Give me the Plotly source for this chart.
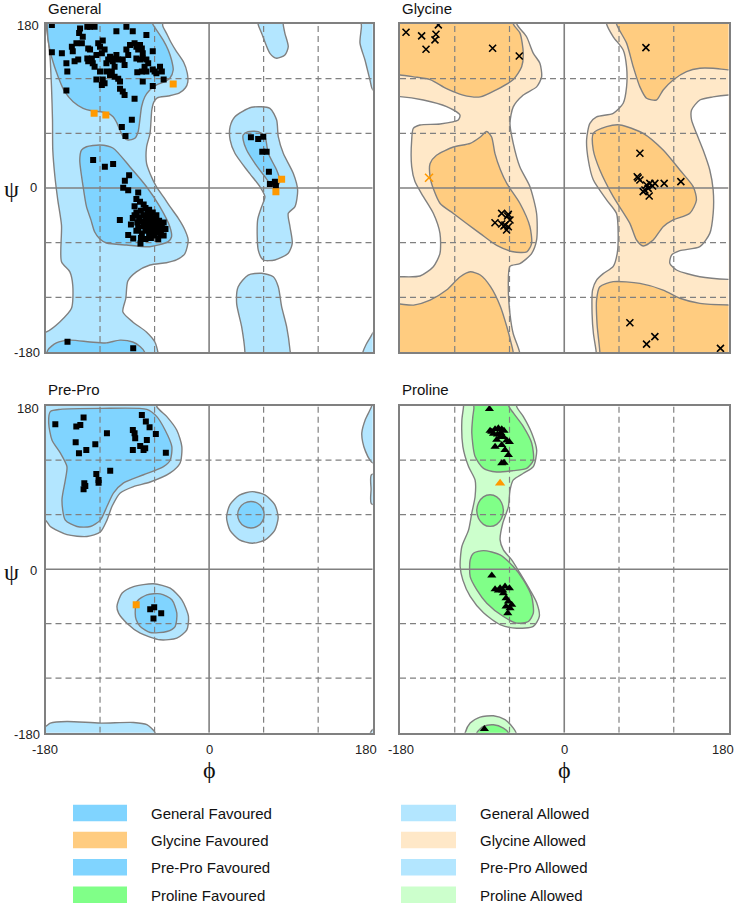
import plotly.graph_objects as go

W, H = 734, 905

# ---------------- colours ----------------
GEN_FAV, GEN_ALW = "#80D4FF", "#B3E6FF"
GLY_FAV, GLY_ALW = "#FFCC80", "#FFE8C8"
PRO_FAV, PRO_ALW = "#80FF88", "#CCFFCC"
OUTLINE = "#808080"
ORANGE = "#FF9900"

# ---------------- axis / ticks ----------------
AXIS_RANGE = [-180, 180]
GRID_DASHED = [-120, -60, 60, 120]
GRID_SOLID = [0]
TICK_LABELS = ["-180", "0", "180"]

# ---------------- General regions (phi, psi) ----------------
GEN_ALLOWED_MAIN = [(-179, 195), (-52, 195), (-51, 178), (-47, 170), (-42, 160), (-36, 150), (-28, 138),
                    (-24, 126), (-23.5, 116), (-26, 110), (-33, 104), (-45, 101), (-57, 99), (-61, 94),
                    (-63, 86), (-65, 60), (-68.8, 45), (-68.8, 27), (-65, 16), (-58, 1.5), (-50, -10),
                    (-43, -20.5), (-34, -33), (-26.6, -46), (-23, -57), (-26.6, -72), (-36, -79), (-47, -82),
                    (-65, -84.5), (-80, -92), (-89.4, -102), (-91.6, -121), (-94.9, -136), (-84, -147),
                    (-69, -158), (-59.7, -169), (-56.4, -180), (-55, -195), (-195, -195), (-195, -163),
                    (-178.9, -158), (-164.3, -147), (-151.4, -132), (-150, -107), (-153.2, -92), (-162.4, -81),
                    (-162.4, -41), (-166.5, -13), (-169.8, 14), (-172, 42), (-172.3, 75), (-173.4, 111),
                    (-175.3, 148), (-178.9, 177)]
GEN_FAV_BETA = [(-179, 195), (-63, 195), (-62, 180), (-57.8, 173.4), (-50.5, 162.4), (-45, 151.5), (-41.3, 140.5),
                (-39.5, 129.5), (-43.2, 120.4), (-48.7, 116.7), (-57.8, 113.1), (-65.2, 107.6), (-70.7, 100.2),
                (-74.3, 89.2), (-76.2, 74.6), (-78.1, 61.8), (-81.7, 54.6), (-89.1, 52.7), (-94.6, 56.3),
                (-98.2, 63.7), (-101.2, 71), (-105.6, 78.3), (-112.8, 82.6), (-129.4, 84.8), (-138.6, 87.5),
                (-149.6, 94.7), (-158.8, 105.7), (-166.1, 122.2), (-173.4, 144.1), (-177.1, 162.4), (-178.2, 179)]
GEN_FAV_BOTTOM = [(-178, -195), (-177.5, -178), (-168, -170), (-153, -167), (-131, -169), (-113, -170),
                  (-98, -167), (-84, -169), (-76, -174), (-71, -180), (-70, -195)]
GEN_FAV_ALPHA = [(-140.4, 41.7), (-134.9, 45.3), (-120.2, 47.2), (-105.9, 43.9), (-87.2, 23.4), (-68.8, 1.4),
                 (-54.2, -20.5), (-43.2, -42.5), (-41.3, -53.5), (-45, -58.9), (-65.2, -64.4), (-90.8, -62.6),
                 (-112.8, -60.4), (-120.2, -56), (-126, -48), (-130, -35), (-134.9, -20.5), (-138.6, 1.4),
                 (-142.3, 30.7)]
GEN_ALLOWED_ALPHAL = [(23.1, 67.3), (28.4, 78.3), (46.8, 88.6), (66.9, 87.5), (74.3, 74.6), (76.1, 56.3),
                      (81.6, 38.1), (92.6, 16.1), (97.4, -2.2), (94.5, -20.5), (87.1, -27.8), (89, -42.5),
                      (91.5, -60.7), (87.1, -71.7), (72.4, -79), (59.6, -79), (54.1, -68.1), (53.4, -35.1),
                      (57.8, -20.5), (61.4, -9.5), (55.9, 1.4), (43, 17.9), (28.4, 38.1), (23.1, 52.7)]
GEN_FAV_ALPHAL = [(37.5, 58.2), (43, 61.8), (54.1, 61.8), (61.4, 56.3), (65.1, 38.1), (74.3, 19.8), (77.9, 8.8),
                  (76.1, 3.3), (68.8, 3.3), (61.4, 12.4), (50.4, 27.1), (41.3, 41.7), (37.5, 52.7)]
GEN_ALLOWED_TOP = [(53, 195), (54.1, 179), (57.8, 169.8), (66.9, 147.8), (74.3, 142.4), (83.4, 146),
                   (87.1, 155.1), (83.4, 169.8), (81.6, 179), (81, 195)]
GEN_ALLOWED_BOT = [(39, -195), (39.4, -180), (35.8, -152.2), (30.3, -126.6), (32, -108.3), (43, -95.5),
                   (57.8, -93.6), (70.6, -97.4), (76.1, -108.3), (79.8, -130.3), (85.3, -152.2), (89, -177.8),
                   (90, -195)]
GEN_ALLOWED_EDGE_TOP = [(167.5, 195), (167.6, 177), (166, 159), (171.5, 140.5), (177, 118.5), (180, 108),
                        (195, 100), (195, 195)]
GEN_ALLOWED_EDGE_BOT = [(168, -195), (169.3, -180), (172.6, -172), (177, -164.6), (181, -158), (195, -150),
                        (195, -195)]

# ---------------- General residues ----------------
GEN_POINTS = [
    (-173, 179), (-173, 149), (-162, 148), (-157, 137), (-156, 128), (-150, 150), (-151, 155), (-148, 139),
    (-144, 141), (-143, 170), (-142, 175), (-146, 159), (-140, 159), (-139, 166), (-134, 177), (-131, 177),
    (-126, 177), (-133, 153), (-134, 142), (-133, 139), (-131, 152), (-129, 142), (-128, 137), (-126, 133),
    (-124, 146), (-122, 159), (-120, 155), (-118, 148), (-117, 162), (-115, 152), (-113, 137), (-111, 141),
    (-109, 144), (-106, 139), (-104, 142), (-102, 146), (-100, 141), (-104, 133), (-107, 128), (-113, 128),
    (-109, 124), (-104, 122), (-100, 120), (-102, 172), (-91, 177), (-84, 172), (-69, 168), (-82, 159),
    (-80, 155), (-78, 152), (-76, 157), (-74, 153), (-73, 148), (-80, 142), (-76, 141), (-73, 142),
    (-69, 141), (-67, 137), (-71, 133), (-69, 128), (-74, 128), (-79, 127), (-62, 150), (-62, 130),
    (-60, 128), (-58, 126), (-54, 133), (-52, 128), (-50, 119), (-62, 112), (-73, 117), (-157, 107),
    (-117, 119), (-115, 115), (-98, 109), (-95, 106), (-93, 102), (-82, 98), (-85, 75), (-96, 67),
    (-92, 57), (-91, 152), (-89, 146), (-87, 157), (-95, 141), (-93, 135), (-120, 128), (-124, 119),
    (-118, 113), (-98, 117),
    (-127.6, 30.7), (-114.7, 23.4), (-105.6, 26.4), (-88, 14), (-92.7, 8), (-94.5, 0.4), (-89, -2.6),
    (-98.2, -35.1), (-89, -51.6), (-83.5, -55.3), (-75.5, -60.8),
    (-78, -5), (-80, -12), (-76, -15), (-72, -18), (-82, -20), (-70, -22), (-66, -24), (-75, -25), (-80, -27),
    (-62, -27), (-68, -28), (-72, -30), (-58, -30), (-64, -31), (-77, -32), (-84, -33), (-60, -34), (-66, -35),
    (-70, -35), (-55, -36), (-74, -37), (-62, -38), (-58, -39), (-68, -40), (-64, -41), (-52, -41), (-72, -42),
    (-60, -42), (-56, -44), (-66, -44), (-78, -44), (-62, -46), (-70, -47), (-54, -47), (-58, -49), (-66, -50),
    (-74, -50), (-60, -52), (-50, -52), (-64, -55), (-70, -56), (-56, -56), (-80, -47), (-86, -40), (-67, -33),
    (-63, -36), (-59, -45), (-61, -40), (-65, -38), (-69, -43), (-57, -37), (-71, -39), (-63, -48), (-67, -46),
    (-53, -50), (-48, -45), (-50, -38), (-75, -55), (-79, -38), (-82, -30),
    (46, 55.6), (54, 53.7), (59.6, 56.3), (58.5, 39.8), (63.3, 39.8), (65.8, 17.9), (66.9, 4.4), (72.4, 6.9),
    (73.5, 2.5), (-155.8, -168.7), (-83.5, -176)]
GEN_OUTLIERS = [(-126.5, 82), (-113.6, 80.1), (-39.5, 114.2), (79.8, 9.5), (73.5, -4.1)]

# ---------------- Glycine regions ----------------
GLY_ALLOWED_BASE = [(-200, -200), (200, -200), (200, 200), (-200, 200)]
GLY_WHITE_CENTER = [(-52, 195), (-52, 180), (-41.3, 166), (-34, 148), (-26.7, 137), (-24.8, 122), (-30.3, 111),
                    (-44.9, 102), (-55.9, 89), (-59.5, 71), (-55.9, 49), (-48.6, 23), (-37.6, 1.5), (-30.3, -28),
                    (-30.3, -57), (-35.8, -72), (-48.6, -83), (-59.5, -86), (-61.3, -108), (-59.5, -138),
                    (-55.9, -160), (-49, -180), (-49, -195), (35, -195), (35, -180), (32, -160), (30.5, -138),
                    (31, -112), (35.4, -101), (42.7, -94), (53.7, -86), (58, -72), (59.1, -50), (57.3, -28),
                    (46.4, -13), (31.8, 9), (26.3, 31), (24.5, 53), (28.1, 71), (35.4, 78), (53.7, 82),
                    (64.6, 93), (68.3, 111), (68.3, 133), (64.6, 151.5), (53.7, 166), (46.4, 180), (46.4, 195)]
GLY_WHITE_LEFT = [(-195, 100.3), (-180, 100.3), (-154.4, 96.6), (-128.9, 89.3), (-114.3, 80.2), (-116.1, 74.7),
                  (-136.2, 70.3), (-158.1, 69.2), (-165.4, 65.5), (-167.2, 52.7), (-167.2, 23.4), (-163.6, 7),
                  (-154.4, -9.5), (-143.5, -27.8), (-136.2, -49.8), (-136.2, -71.7), (-143.5, -86.4),
                  (-158.1, -96.6), (-180, -97.4), (-195, -97.4)]
GLY_WHITE_RIGHT = [(195, 102), (180, 102), (163, 100), (148.6, 96.6), (139.5, 85.6), (139.5, 74.7), (144.9, 60),
                   (152.2, 41.7), (159.5, 19.8), (163.2, -2.2), (163.2, -27.8), (159.5, -49.8), (148.6, -64.4),
                   (126.7, -68.8), (117.6, -73.6), (115.7, -82.7), (123, -90), (148.6, -97.4), (180, -100.3),
                   (195, -100.3)]
GLY_FAV_TL = [(-195, 195), (-55.8, 195), (-55.8, 180), (-48.5, 170), (-44.9, 148), (-46.7, 133), (-55.8, 119),
              (-74, 108), (-92, 100), (-111, 102), (-129, 109), (-147, 119), (-165, 122), (-180, 124), (-195, 124)]
GLY_FAV_BL = [(-195, -128.5), (-165, -128.5), (-147, -123), (-129, -112), (-114, -97.4), (-103, -92),
              (-92, -95.5), (-81, -108), (-70, -130), (-63, -152), (-58, -171), (-56, -180), (-55.5, -195),
              (-195, -195)]
GLY_FAV_CL = [(-147, 27), (-140, 36), (-121.5, 45), (-103, 49), (-92, 56), (-85, 62), (-79.6, 56), (-76, 38),
              (-70, 20), (-63, 5), (-48.5, -17), (-37.6, -42.5), (-35.8, -61), (-41, -70), (-56, -70), (-74, -63),
              (-92, -50), (-107, -39), (-121.5, -28), (-136, -17), (-143, -2), (-147, 12)]
GLY_FAV_CR = [(31.8, 60), (46.4, 67.3), (61, 69.2), (86.5, 60), (108.4, 41.7), (126.7, 19.8), (141.3, 1.5),
              (144.9, -13.2), (137.6, -27.8), (119.4, -35.1), (108.4, -42.5), (97.5, -57.1), (86.5, -63.7),
              (79.2, -57.1), (71.9, -38.8), (53.7, -9.5), (39, 19.8), (31.8, 41.7)]
GLY_FAV_TR = [(57, 195), (57.3, 180), (68.3, 159), (75.6, 133), (82.9, 111), (90.2, 98.5), (101, 96.6),
              (108.4, 107.6), (119.4, 118.6), (134, 127.7), (148.6, 131.4), (163, 131.4), (181, 129.6),
              (195, 129.6), (195, 195)]
GLY_FAV_BR = [(39, -195), (39, -180), (36, -150), (35.4, -123), (39, -108.3), (53.7, -102.8), (82.9, -104.7),
              (108.4, -112), (126.7, -121), (148.6, -126.6), (181, -128.5), (195, -128.5), (195, -195)]

GLY_POINTS = [(-173.4, 170.9), (-156.3, 166.9), (-151.5, 152.3), (-141.7, 162.5), (-140.6, 168.7),
              (-138, 179), (-78.5, 153.4), (-49.3, 144.9),
              (-68.6, -27.8), (-61.3, -28.9), (-75.9, -38.1), (-68.6, -39.5), (-65, -40.6), (-61.3, -42.5),
              (-63.2, -46.1), (-66.1, -41.7), (-59.5, -35.1), (-62.1, -30.7),
              (82.9, 38.1), (80, 12.4), (82.9, 8.8), (81, 11), (90.2, 3.3), (93.8, 5.1), (99.3, 5.1),
              (109.5, 5.1), (127.8, 7), (88.4, -2.2), (92, -0.4), (93.1, -8.8), (86.5, -4), (96.8, 2.2),
              (89.5, 154.1), (71.9, -147.9), (90.2, -171.3), (99.3, -163.2), (171.2, -176)]
GLY_OUTLIERS = [(-148.2, 11.3)]

# ---------------- Pre-Pro regions ----------------
PP_ALLOWED_MAIN = [(-195, 195), (-57.5, 195), (-57.5, 179), (-46.5, 168), (-35.5, 153), (-30, 135), (-31.9, 117),
                   (-42.8, 106), (-64.8, 96), (-83.1, 91), (-97.8, 84), (-106.9, 69), (-112.4, 54), (-119.7, 41),
                   (-134.4, 36), (-156.4, 38), (-174.7, 47), (-180.2, 54), (-195, 54)]
PP_FAV_MAIN = [(-174.7, 173.5), (-163.7, 176), (-119.7, 177), (-68.5, 176), (-57.5, 168), (-48.3, 153),
               (-41, 135), (-42.8, 120), (-50.2, 113), (-72.1, 104), (-94.1, 95), (-105.1, 84), (-112.4, 69),
               (-119.7, 54), (-130.7, 47), (-145.4, 47), (-158.2, 54), (-161.9, 76), (-158.2, 98), (-156.4, 113),
               (-163.7, 128), (-172.8, 142), (-176.5, 161)]
PP_ALLOWED_BOT = [(-195, -195), (-195, -173), (-180, -173), (-174.7, -169.4), (-156.4, -167.6), (-119.7, -169.4),
                  (-83.1, -168.7), (-68.5, -171.2), (-59.3, -180), (-58, -195)]
PP_ALLOWED_AL = [(76, 57), (72.2, 71.2), (61.8, 81.6), (47.6, 85.4), (33.4, 81.6), (23, 71.2), (19.2, 57),
                 (23, 42.8), (33.4, 32.4), (47.6, 28.6), (61.8, 32.4), (72.2, 42.8)]
PP_FAV_AL = [(60.6, 60), (58.6, 67.3), (53.3, 72.6), (46, 74.6), (38.7, 72.6), (33.4, 67.3), (31.4, 60),
             (33.4, 52.7), (38.7, 47.4), (46, 45.4), (53.3, 47.4), (58.6, 52.7)]
PP_ALLOWED_AR = [(-101.4, -41.1), (-95.9, -26.4), (-83.1, -19.1), (-61.2, -16.1), (-42.8, -20.9), (-30, -33.7),
                 (-22.7, -52.1), (-24.5, -66.7), (-35.5, -75.9), (-53.8, -77.7), (-75.8, -70.4), (-90.5, -59.4),
                 (-99.6, -48.4)]
PP_FAV_AR = [(-81.3, -48.4), (-79.5, -35.6), (-68.5, -28.2), (-53.8, -27.1), (-41, -33.7), (-35.5, -48.4),
             (-37.4, -63.1), (-46.5, -68.6), (-64.8, -69.7), (-75.8, -63.1), (-80.2, -55.7)]
PP_ALLOWED_EDGE = [(180, 195), (179, 180), (172, 165), (168, 150), (169, 140), (172, 130), (177, 120),
                   (180, 117), (195, 117), (195, 195)]
PP_EDGE_SLIVER = [(178.6, 104), (178.2, 88), (178.6, 72), (195, 72), (195, 104)]
PP_EDGE_CORNER = [(177, -195), (177.5, -180), (181, -176), (195, -176), (195, -195)]

PP_POINTS = [(-169.2, 159.5), (-146.1, 157), (-141.7, 158.8), (-138.1, 166.9), (-146.8, 139.7), (-143.2, 127.6),
             (-135.1, 131.3), (-125.2, 137.5), (-112.4, 149.6), (-124.1, 104.9), (-137.3, 94.6), (-136.2, 91.7),
             (-138.1, 88), (-121.6, 98.3), (-121.6, 95.3), (-108.8, 108.5), (-83.9, 153.3), (-82, 149.6),
             (-81.3, 144.1), (-83.9, 131.3), (-75.8, 135.7), (-72.1, 131.3), (-70.3, 133.1), (-68.5, 142.3),
             (-74, 169.8), (-69.6, 162.5), (-65.5, 156.2), (-58.6, 148.9), (-47.6, 128.3),
             (-64.8, -44), (-60.4, -41.8), (-52.7, -48.4), (-61.2, -54.3)]
PP_OUTLIERS = [(-80.2, -39.2)]

# ---------------- Proline regions ----------------
PRO_ALLOWED_MAIN = [(-110.4, 195), (-110.4, 179), (-112.2, 164), (-111.1, 135), (-104.9, 113), (-97.7, 98),
                    (-97.7, 80), (-101.3, 62), (-104.9, 43), (-112.2, 25), (-114.1, 3), (-111.1, -12),
                    (-103.1, -30), (-88.5, -48), (-70.3, -61), (-52.1, -65), (-33.9, -63), (-27.3, -52),
                    (-30.2, -37), (-37.5, -23), (-48.5, -4.4), (-57.6, 10.3), (-66.7, 21.3), (-70.3, 32.3),
                    (-67.4, 50.6), (-61.2, 68.9), (-59.4, 87.3), (-55.8, 98.3), (-44.8, 105.6), (-33.9, 113),
                    (-30.2, 131), (-35.7, 150), (-44.8, 168), (-52.1, 179), (-52.1, 195)]
PRO_FAV_TOP = [(-99, 195), (-99, 177), (-100.2, 168), (-101.3, 150), (-97.7, 124), (-88.5, 111), (-74, 107),
               (-55.8, 108.5), (-41.2, 111), (-33.9, 120), (-35.7, 139), (-44.8, 157), (-55.8, 172), (-61, 180),
               (-61, 195)]
PRO_FAV_RING = [(-66.7, 64.5), (-68.7, 73.2), (-74, 79.6), (-81.3, 81.9), (-88.6, 79.6), (-93.9, 73.2),
                (-95.9, 64.5), (-93.9, 55.8), (-88.6, 49.4), (-81.3, 47.1), (-74, 49.4), (-68.7, 55.8)]
PRO_FAV_MID = [(-103.1, 10.3), (-99.5, 17.6), (-88.5, 20.5), (-70.3, 15.8), (-55.8, 2.9), (-44.8, -11.7),
               (-35.7, -30.1), (-33.9, -48.4), (-39.4, -57.6), (-52.1, -59.4), (-66.7, -52.1), (-84.9, -37.4),
               (-95.8, -22.7), (-103.1, -8.1)]
PRO_ALLOWED_BOT = [(-110, -195), (-108.6, -180), (-103.1, -169.4), (-92.2, -162.8), (-77.6, -161.4),
                   (-64.9, -165.7), (-55.8, -174.9), (-52.8, -180), (-52, -195)]
PRO_FAV_BOT = [(-97, -195), (-95.8, -180), (-88.5, -173.1), (-77.6, -171.3), (-66.7, -174.9), (-61.2, -180),
               (-61, -195)]

PRO_POINTS = [(-82, 176.4), (-81.3, 152.5), (-75.8, 154), (-72.2, 155.1), (-68.5, 154), (-66, 152.5),
              (-77.6, 149.2), (-73.2, 148.4), (-69.6, 149.9), (-66.7, 145.5), (-63, 141.8), (-60.1, 140),
              (-74, 142.5), (-75.8, 134.9), (-68.5, 136.8), (-64.9, 131.3), (-61.2, 125.6), (-68.5, 116.6),
              (-66, 117.3), (-70.3, 145.5), (-79.4, 151.4),
              (-79.4, -7), (-75.8, -22), (-70.3, -20.9), (-64.9, -19.1), (-60.1, -20.9), (-66.7, -26.4),
              (-63.8, -31.9), (-61.2, -35.6), (-57.6, -39.2), (-63.8, -41.1), (-59.4, -42.9), (-61.9, -48.4),
              (-67.4, -23.5), (-72.2, -23.5), (-87.5, -176)]
PRO_OUTLIERS = [(-70.3, 94.6)]

# ---------------- legend ----------------
LEGEND_LEFT = [("General Favoured", GEN_FAV), ("Glycine Favoured", GLY_FAV),
               ("Pre-Pro Favoured", GEN_FAV), ("Proline Favoured", PRO_FAV)]
LEGEND_RIGHT = [("General Allowed", GEN_ALW), ("Glycine Allowed", GLY_ALW),
                ("Pre-Pro Allowed", GEN_ALW), ("Proline Allowed", PRO_ALW)]

# ---------------- layout geometry (pixels) ----------------
PANELS = {
    1: dict(title="General", x0=45.5, x1=372.7, y0=24, y1=352),
    2: dict(title="Glycine", x0=400, x1=728.5, y0=24, y1=352),
    3: dict(title="Pre-Pro", x0=45.5, x1=372.7, y0=405.7, y1=732.7),
    4: dict(title="Proline", x0=400, x1=728.5, y0=405.7, y1=732.7),
}

SANS = "Liberation Sans, Arial, sans-serif"
SERIF = "Liberation Serif, DejaVu Serif, serif"

fig = go.Figure()


def ax_ids(n):
    return ("x" if n == 1 else f"x{n}"), ("y" if n == 1 else f"y{n}")


def add_poly(n, pts, fill, outline=True, spline=True):
    xa, ya = ax_ids(n)
    xs = [p[0] for p in pts] + [pts[0][0]]
    ys = [p[1] for p in pts] + [pts[0][1]]
    line = dict(color=OUTLINE, width=1.4 if outline else 0)
    if spline:
        line.update(shape="spline", smoothing=0.7)
    fig.add_trace(go.Scatter(x=xs, y=ys, mode="lines", fill="toself", fillcolor=fill, line=line,
                             xaxis=xa, yaxis=ya, hoverinfo="skip", showlegend=False))


def add_grid(n):
    xa, ya = ax_ids(n)
    for vals, dash, width in ((GRID_DASHED, "6px,4px", 1.2), (GRID_SOLID, "solid", 1.6)):
        xs, ys = [], []
        for v in vals:
            xs += [v, v, None, AXIS_RANGE[0], AXIS_RANGE[1], None]
            ys += [AXIS_RANGE[0], AXIS_RANGE[1], None, v, v, None]
        fig.add_trace(go.Scatter(x=xs, y=ys, mode="lines", line=dict(color=OUTLINE, width=width, dash=dash),
                                 xaxis=xa, yaxis=ya, hoverinfo="skip", showlegend=False))


def add_points(n, pts, symbol, size, color, xline=False):
    xa, ya = ax_ids(n)
    marker = dict(symbol=symbol, size=size, color=color)
    if xline:
        marker["line"] = dict(width=1.6, color=color)
    else:
        marker["line"] = dict(width=0)
    fig.add_trace(go.Scatter(x=[p[0] for p in pts], y=[p[1] for p in pts], mode="markers", marker=marker,
                             xaxis=xa, yaxis=ya, hoverinfo="skip", showlegend=False))


# General
for poly in (GEN_ALLOWED_MAIN, GEN_ALLOWED_ALPHAL, GEN_ALLOWED_TOP, GEN_ALLOWED_BOT,
             GEN_ALLOWED_EDGE_TOP, GEN_ALLOWED_EDGE_BOT):
    add_poly(1, poly, GEN_ALW)
for poly in (GEN_FAV_BETA, GEN_FAV_BOTTOM, GEN_FAV_ALPHA, GEN_FAV_ALPHAL):
    add_poly(1, poly, GEN_FAV)
add_grid(1)
add_points(1, GEN_POINTS, "square", 6, "black")
add_points(1, GEN_OUTLIERS, "square", 7, ORANGE)

# Glycine
add_poly(2, GLY_ALLOWED_BASE, GLY_ALW, outline=False, spline=False)
for poly in (GLY_WHITE_CENTER, GLY_WHITE_LEFT, GLY_WHITE_RIGHT):
    add_poly(2, poly, "white")
for poly in (GLY_FAV_TL, GLY_FAV_BL, GLY_FAV_CL, GLY_FAV_CR, GLY_FAV_TR, GLY_FAV_BR):
    add_poly(2, poly, GLY_FAV)
add_grid(2)
add_points(2, GLY_POINTS, "x-thin", 7, "black", xline=True)
add_points(2, GLY_OUTLIERS, "x-thin", 8, ORANGE, xline=True)

# Pre-Pro
for poly in (PP_ALLOWED_MAIN, PP_ALLOWED_BOT, PP_ALLOWED_AL, PP_ALLOWED_AR, PP_ALLOWED_EDGE,
             PP_EDGE_SLIVER, PP_EDGE_CORNER):
    add_poly(3, poly, GEN_ALW)
for poly in (PP_FAV_MAIN, PP_FAV_AL, PP_FAV_AR):
    add_poly(3, poly, GEN_FAV)
add_grid(3)
add_points(3, PP_POINTS, "square", 6, "black")
add_points(3, PP_OUTLIERS, "square", 7, ORANGE)

# Proline
for poly in (PRO_ALLOWED_MAIN, PRO_ALLOWED_BOT):
    add_poly(4, poly, PRO_ALW)
for poly in (PRO_FAV_TOP, PRO_FAV_RING, PRO_FAV_MID, PRO_FAV_BOT):
    add_poly(4, poly, PRO_FAV)
add_grid(4)
add_points(4, PRO_POINTS, "triangle-up", 8, "black")
add_points(4, PRO_OUTLIERS, "triangle-up", 9, ORANGE)


def px(x):
    return x / W


def py(y):
    return 1 - y / H


layout = dict(width=W, height=H, margin=dict(l=0, r=0, t=0, b=0), autosize=False,
              paper_bgcolor="white", plot_bgcolor="white", showlegend=False)
annotations = []
shapes = []
for n, p in PANELS.items():
    xa, ya = ax_ids(n)
    xkey = "xaxis" if n == 1 else f"xaxis{n}"
    ykey = "yaxis" if n == 1 else f"yaxis{n}"
    common = dict(range=AXIS_RANGE, showgrid=False, zeroline=False, showticklabels=False, ticks="",
                  showline=True, mirror=True, linecolor=OUTLINE, linewidth=2, fixedrange=True)
    layout[xkey] = dict(domain=[px(p["x0"]), px(p["x1"])], anchor=ya, **common)
    layout[ykey] = dict(domain=[py(p["y1"]), py(p["y0"])], anchor=xa, **common)
    annotations.append(dict(text=p["title"], x=px(p["x0"]), y=py(p["y0"] - 16), xref="paper", yref="paper",
                            xanchor="left", yanchor="middle", showarrow=False,
                            font=dict(family=SANS, size=15, color="#111")))

# y tick labels + psi (left panels)
for n, ys in ((1, (26, 188, 352.5)), (3, (409, 570.5, 734))):
    for lab, yy, xx in zip(TICK_LABELS[::-1], ys, (28, 33.5, 27)):
        annotations.append(dict(text=lab, x=px(xx), y=py(yy), xref="paper", yref="paper", xanchor="center",
                                yanchor="middle", showarrow=False, font=dict(family=SANS, size=13, color="#222")))
    annotations.append(dict(text="ψ", x=px(12), y=py(ys[1] + 1), xref="paper", yref="paper", xanchor="center",
                            yanchor="middle", showarrow=False, font=dict(family=SERIF, size=24, color="#111")))

# x tick labels + phi (bottom panels)
for n, xs in ((3, (45, 209, 366)), (4, (401, 564.5, 722.5))):
    for lab, xx in zip(TICK_LABELS, xs):
        annotations.append(dict(text=lab, x=px(xx), y=py(749.5), xref="paper", yref="paper", xanchor="center",
                                yanchor="middle", showarrow=False, font=dict(family=SANS, size=13, color="#222")))
    annotations.append(dict(text="ϕ", x=px(xs[1]), y=py(770), xref="paper", yref="paper", xanchor="center",
                            yanchor="middle", showarrow=False, font=dict(family=SERIF, size=24, color="#111")))

# legend
ROW_Y = [813, 840, 867.3, 894.7]
for col, entries, rx0, rx1, tx in ((0, LEGEND_LEFT, 73, 127, 149), (1, LEGEND_RIGHT, 401, 456, 478)):
    for (label, color), yy in zip(entries, ROW_Y):
        shapes.append(dict(type="rect", xref="paper", yref="paper", x0=px(rx0), x1=px(rx1),
                           y0=py(yy + 8.3), y1=py(yy - 8.3), fillcolor=color, line=dict(width=0)))
        annotations.append(dict(text=label, x=px(tx), y=py(yy + 0.5), xref="paper", yref="paper",
                                xanchor="left", yanchor="middle", showarrow=False,
                                font=dict(family=SANS, size=15, color="#111")))

layout["annotations"] = annotations
layout["shapes"] = shapes
fig.update_layout(**layout)
fig.write_html("out.html", config={"displayModeBar": False},
               post_script="document.body.style.margin='0';document.body.style.overflow='hidden';")
